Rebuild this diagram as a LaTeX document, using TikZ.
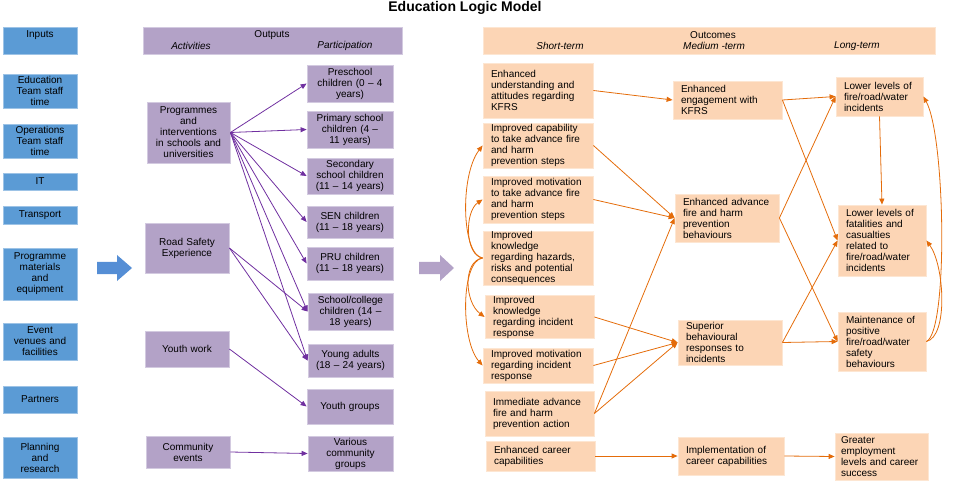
\documentclass[tikz,border=0pt]{standalone}
\usepackage{fontspec}
\setmainfont{Liberation Sans}
\usetikzlibrary{arrows.meta,calc}
\definecolor{inblue}{HTML}{5B9BD5}
\definecolor{inbord}{HTML}{9DC3E6}
\definecolor{arrblue}{HTML}{558ED5}
\definecolor{outpur}{HTML}{B3A2C7}
\definecolor{outbord}{HTML}{D3CAE0}
\definecolor{linepur}{HTML}{7030A0}
\definecolor{ocpeach}{HTML}{FCD5B5}
\definecolor{ocbord}{HTML}{FDE6D2}
\definecolor{lineor}{HTML}{E46C0A}
\newcommand{\nohyph}{\hyphenpenalty=10000\relax\exhyphenpenalty=10000\relax}
\begin{document}
\begin{tikzpicture}[x=1pt,y=-1pt,
  txt/.style={font=\fontsize{10}{11}\selectfont\nohyph},
  ibox/.style={txt,rectangle,fill=inblue,draw=inbord,line width=0.8pt,inner xsep=0pt,inner ysep=0pt,align=center,text width=74pt},
  abox/.style={txt,rectangle,fill=outpur,draw=outbord,line width=0.8pt,inner xsep=0pt,inner ysep=0pt,align=center},
  obox/.style={txt,rectangle,fill=ocpeach,draw=ocbord,line width=0.8pt,inner xsep=8pt,inner ysep=0pt,align=left},
  hdr/.style={rectangle,draw=#1,line width=0.8pt,inner sep=0pt},
  hlab/.style={txt,inner sep=0pt,anchor=center},
  parr/.style={draw=linepur,line width=0.8pt,-{Triangle[length=6pt,width=5pt]}},
  oarr/.style={draw=lineor,line width=0.8pt,-{Triangle[length=6pt,width=5pt]}}
]
\useasboundingbox (0,0) rectangle (955,494);
% title
\node[font=\bfseries\fontsize{14}{16}\selectfont,inner sep=0pt] (title) at (465,8) {Education Logic Model};

% ---------- Inputs ----------
\node[hdr=inbord,fill=inblue,minimum width=74pt,minimum height=27pt] (inhdr) at (40,40.5) {};
\node[hlab] (inlab) at (40,35) {Inputs};
\node[ibox,minimum height=34pt] (edu) at (40,91) {Education\\Team staff\\time};
\node[ibox,minimum height=34pt] (ops) at (40,141) {Operations\\Team staff\\time};
\node[ibox,minimum height=17pt] (it) at (40,181.5) {IT};
\node[ibox,minimum height=18pt] (tra) at (40,215) {Transport};
\node[ibox,minimum height=52pt] (pme) at (40,274) {Programme\\materials\\and\\equipment};
\node[ibox,minimum height=37pt] (evf) at (40,341.5) {Event\\venues and\\facilities};
\node[ibox,minimum height=27pt] (par) at (40,399.5) {Partners};
\node[ibox,minimum height=41pt] (plr) at (40,457.5) {Planning\\and\\research};

% big arrows
\fill[arrblue] (97,262) -- (117,262) -- (117,255) -- (132,268) -- (117,281) -- (117,274) -- (97,274) -- cycle;
\fill[outpur] (419,262) -- (440,262) -- (440,255) -- (454,268) -- (440,281) -- (440,274) -- (419,274) -- cycle;

% ---------- Outputs ----------
\node[hdr=outbord,fill=outpur,minimum width=259pt,minimum height=27pt] (outhdr) at (272.5,40.5) {};
\node[hlab] (outlab) at (272,35) {Outputs};
\node[hlab,font=\fontsize{10}{11}\selectfont\itshape] (actlab) at (191,46) {Activities};
\node[hlab,font=\fontsize{10}{11}\selectfont\itshape] (parlab) at (345,46) {Participation};

\node[abox,text width=83pt,minimum height=61pt] (prog) at (188.5,132.5) {Programmes\\and\\interventions\\in schools and\\universities};
\node[abox,text width=84pt,minimum height=50pt] (rse) at (187,248) {Road Safety\\Experience};
\node[abox,text width=84pt,minimum height=36pt] (yw) at (187,349) {Youth work};
\node[abox,text width=84pt,minimum height=32pt] (ce) at (188,452) {Community\\events};

\node[abox,text width=86pt,minimum height=37pt] (pre) at (350,83.5) {Preschool\\children (0 – 4\\years)};
\node[abox,text width=86pt,minimum height=37pt] (pri) at (350,129.5) {Primary school\\children (4 –\\11 years)};
\node[abox,text width=86pt,minimum height=36pt] (sec) at (350,176) {Secondary\\school children\\(11 – 14 years)};
\node[abox,text width=86pt,minimum height=32pt] (sen) at (350,222) {SEN children\\(11 – 18 years)};
\node[abox,text width=86pt,minimum height=33pt] (pru) at (350,263.5) {PRU children\\(11 – 18 years)};
\node[abox,text width=85pt,minimum height=37pt] (sch) at (350.5,311.5) {School/college\\children (14 –\\18 years)};
\node[abox,text width=85pt,minimum height=33pt] (ya) at (350.5,360.5) {Young adults\\(18 – 24 years)};
\node[abox,text width=86pt,minimum height=35pt] (yg) at (350,406.5) {Youth groups};
\node[abox,text width=85pt,minimum height=35pt] (vcg) at (350.5,453.5) {Various\\community\\groups};

\foreach \t in {pre,pri,sec,sen,pru,sch,ya} \draw[parr] (prog.east) -- (\t.west);
\draw[parr] (rse.east) -- (sch.west);
\draw[parr] (rse.east) -- (ya.west);
\draw[parr] (yw.east) -- (yg.west);
\draw[parr] (ce.east) -- (vcg.west);

% ---------- Outcomes ----------
\node[hdr=ocbord,fill=ocpeach,minimum width=452pt,minimum height=27pt] (ochdr) at (709,40.5) {};
\node[hlab] (oclab) at (713,35) {Outcomes};
\node[hlab,font=\fontsize{10}{11}\selectfont\itshape] (stlab) at (560,46) {Short-term};
\node[hlab,font=\fontsize{10}{11}\selectfont\itshape] (mtlab) at (714,46) {Medium -term};
\node[hlab,font=\fontsize{10}{11}\selectfont\itshape] (ltlab) at (857,46) {Long-term};

% short-term
\node[obox,text width=94pt,minimum height=55pt] (eu) at (538,90.5) {Enhanced\\understanding and\\attitudes regarding\\KFRS};
\node[obox,text width=94pt,minimum height=45pt] (ic) at (538,145.5) {Improved capability\\to take advance fire\\and harm\\prevention steps};
\node[obox,text width=94pt,minimum height=47pt] (im) at (538,199.5) {Improved motivation\\to take advance fire\\and harm\\prevention steps};
\node[obox,text width=94pt,minimum height=54pt] (ikh) at (538,258) {Improved\\knowledge\\regarding hazards,\\risks and potential\\consequences};
\node[obox,text width=93pt,minimum height=42pt] (iki) at (539.5,317) {Improved\\knowledge\\regarding incident\\response};
\node[obox,text width=94pt,minimum height=35pt] (imi) at (538,365.5) {Improved motivation\\regarding incident\\response};
\node[obox,text width=93pt,minimum height=45pt] (iaa) at (539.5,413.5) {Immediate advance\\fire and harm\\prevention action};
\node[obox,text width=93pt,minimum height=30pt] (ecc) at (540.5,456) {Enhanced career\\capabilities};

% medium-term
\node[obox,text width=93pt,minimum height=38pt] (ee) at (727.5,100) {Enhanced\\engagement with\\KFRS};
\node[obox,text width=88pt,minimum height=48pt] (ea) at (727,218) {Enhanced advance\\fire and harm\\prevention\\behaviours};
\node[obox,text width=88pt,minimum height=45pt] (sup) at (730,342.5) {Superior\\behavioural\\responses to\\incidents};
\node[obox,text width=90pt,minimum height=38pt] (imp) at (731,456) {Implementation of\\career capabilities};

% long-term
\node[obox,text width=71pt,minimum height=39pt] (lf) at (879.5,96.5) {Lower levels of\\fire/road/water\\incidents};
\node[obox,text width=72pt,minimum height=71pt] (lfc) at (882,240.5) {Lower levels of\\fatalities and\\casualties\\related to\\fire/road/water\\incidents};
\node[obox,text width=72pt,minimum height=59pt] (mp) at (882,341.5) {Maintenance of\\positive\\fire/road/water\\safety\\behaviours};
\node[obox,inner xsep=6pt,text width=81pt,minimum height=47pt] (ge) at (881.5,456.5) {Greater\\employment\\levels and career\\success};

% straight connectors
\draw[oarr] (eu.east) -- (ee.west);
\draw[oarr] (ee.east) -- (lf.west);
\draw[oarr] (ee.east) -- (lfc.west);
\draw[oarr] (ic.east) -- (ea.west);
\draw[oarr] (im.east) -- (ea.west);
\draw[oarr] (iaa.east) -- (ea.west);
\draw[oarr] (iaa.east) -- (sup.west);
\draw[oarr] (iki.east) -- (sup.west);
\draw[oarr] (imi.east) -- (sup.west);
\draw[oarr] (ea.east) -- (lf.west);
\draw[oarr] (ea.east) -- (mp.west);
\draw[oarr] (sup.east) -- (lfc.west);
\draw[oarr] (sup.east) -- (mp.west);
\draw[oarr] (lf.south) -- (lfc.north);
\draw[oarr] (ecc.east) -- (imp.west);
\draw[oarr] (imp.east) -- (ge.west);

% curved connectors (left)
\draw[oarr] (ikh.west) .. controls ($(ikh.west)+(-21,-3)$) and ($(ic.west)+(-23,30)$) .. (ic.west);
\draw[oarr] (ikh.west) .. controls ($(ikh.west)+(-18,-3)$) and ($(im.west)+(-18,12)$) .. (im.west);
\draw[oarr] (ikh.west) .. controls ($(ikh.west)+(-20,3)$) and ($(iki.west)+(-20,-15)$) .. (iki.west);
\draw[oarr] (ikh.west) .. controls ($(ikh.west)+(-22,3)$) and ($(imi.west)+(-22,-25)$) .. (imi.west);
% curved connectors (right)
\draw[oarr] (mp.east) .. controls ($(mp.east)+(22,-10)$) and ($(lf.east)+(22,40)$) .. (lf.east);
\draw[oarr] (mp.east) .. controls ($(mp.east)+(22,-5)$) and ($(lfc.east)+(18,25)$) .. (lfc.east);
\end{tikzpicture}
\end{document}
